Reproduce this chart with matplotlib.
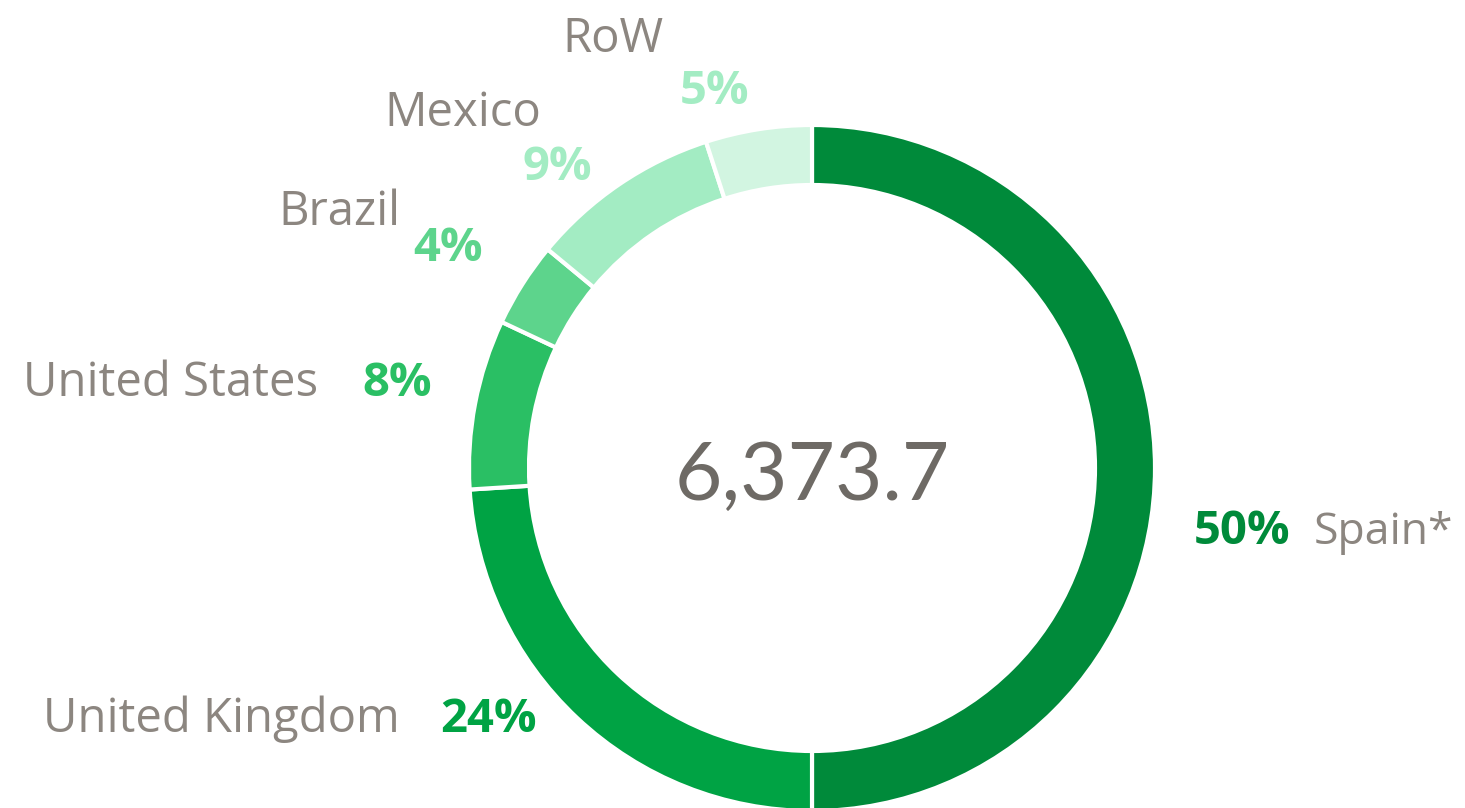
import matplotlib.pyplot as plt

W, H = 1465, 808

regions = ["Spain*", "United Kingdom", "United States", "Brazil", "Mexico", "RoW"]
shares = [50, 24, 8, 4, 9, 5]
colors = ["#008a3a", "#00a344", "#2abf64", "#5dd48c", "#a3ecc3", "#d2f5e1"]
pct_colors = ["#008a3a", "#00a344", "#2abf64", "#5dd48c", "#a3ecc3", "#a3ecc3"]
total = "6,373.7"

# label placement in image pixels (baselines): (name x, name y, name ha, pct x, pct y, pct ha)
label_pos = {
    "Spain*": (1314, 544, "left", 1290, 544, "right"),
    "United Kingdom": (400, 732, "right", 440, 732, "left"),
    "United States": (318, 396, "right", 362, 396, "left"),
    "Brazil": (400, 225, "right", 448, 261, "center"),
    "Mexico": (541, 126, "right", 557, 180, "center"),
    "RoW": (613, 52, "center", 715, 104, "center"),
}

name_color = "#8c8680"
center_color = "#6e6a65"

fig = plt.figure(figsize=(W / 100, H / 100), dpi=100)
ax = fig.add_axes([0, 0, 1, 1])

ax.pie(shares, colors=colors, startangle=90, counterclock=False,
       center=(812, H - 468), radius=343,
       wedgeprops=dict(width=60, edgecolor="white", linewidth=3))

ax.set_xlim(0, W)
ax.set_ylim(0, H)
ax.set_aspect("equal")
ax.axis("off")

ax.text(812, H - 500, total, ha="center", va="baseline", fontsize=59,
        color=center_color, family="Lato")

for name, val, pc in zip(regions, shares, pct_colors):
    nx, ny, nha, px, py, pha = label_pos[name]
    size = 32 if name == "Spain*" else 34
    ax.text(nx, H - ny, name, ha=nha, va="baseline", fontsize=size,
            color=name_color, family="Open Sans")
    ax.text(px, H - py, f"{val}%", ha=pha, va="baseline", fontsize=34,
            color=pc, family="Open Sans", fontweight="bold")

fig.savefig("out.png", dpi=100)
